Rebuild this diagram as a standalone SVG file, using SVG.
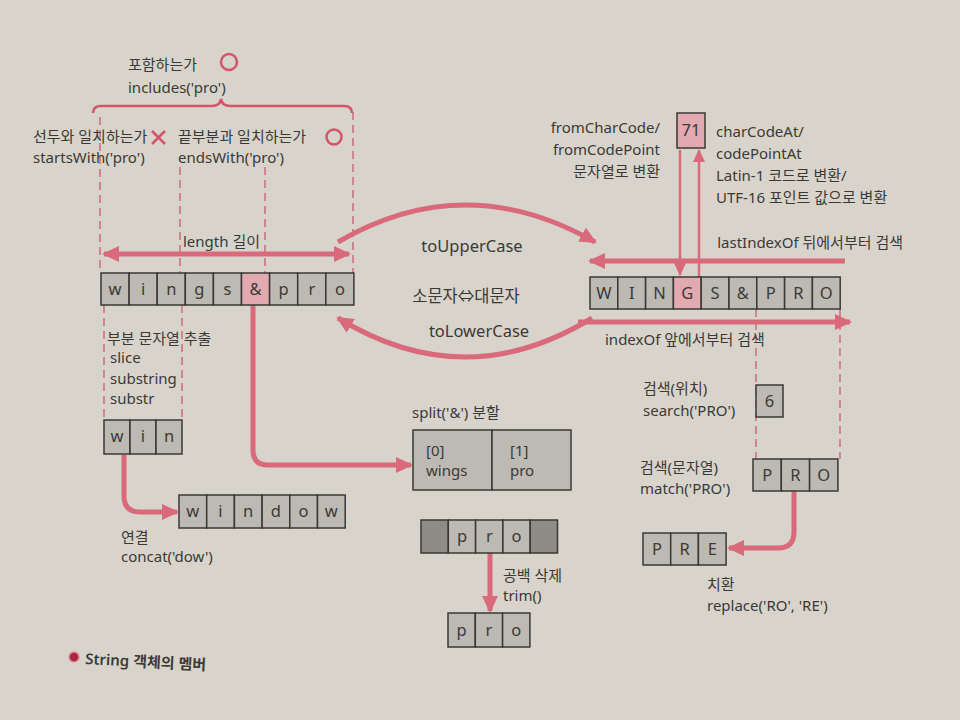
<svg xmlns="http://www.w3.org/2000/svg" width="960" height="720" viewBox="0 0 960 720">
<defs>
<style>
text{font-family:"Noto Sans","Noto Sans CJK KR",sans-serif;font-size:15px;fill:#3b3935}
.c{fill:#bdbab3;stroke:#3a3835;stroke-width:1.5}
.pk{fill:#e3a9b1;stroke:#3a3835;stroke-width:1.5}
.dk{fill:#8f8c86;stroke:#3a3835;stroke-width:1.5}
.ch{text-anchor:middle;font-size:16.5px}
.mid{text-anchor:middle}
.big{font-size:16.5px}
.end{text-anchor:end}
.dash{stroke:#c95e6f;stroke-width:1.3;stroke-dasharray:8 5;fill:none}
.arr{stroke:#d9697b;stroke-width:5;fill:none}
.arr2{stroke:#d9697b;stroke-width:2.5;fill:none}
.red{stroke:#d4556a;fill:none;stroke-width:2.5}
</style>
<marker id="ah" markerUnits="userSpaceOnUse" markerWidth="18" markerHeight="16" refX="15" refY="8" orient="auto"><path d="M0,0 L17,8 L0,16 z" fill="#d9697b"/></marker>
<marker id="ahs" markerUnits="userSpaceOnUse" markerWidth="18" markerHeight="16" refX="15" refY="8" orient="auto-start-reverse"><path d="M0,0 L17,8 L0,16 z" fill="#d9697b"/></marker>
<marker id="ah2" markerUnits="userSpaceOnUse" markerWidth="14" markerHeight="14" refX="12" refY="7" orient="auto"><path d="M0,1 L13,7 L0,13 z" fill="#d9697b"/></marker>
</defs>
<rect width="960" height="720" fill="#d8d4cc"/>

<!-- dashed guides -->
<g id="guides">
<path class="dash" d="M100 117 V273 M180 167 V273 M265 167 V273 M353 112 V273"/>
<path class="dash" d="M104 305 V420 M182 305 V420"/>
<path class="dash" d="M756 309 V459 M840 309 V459"/>
</g>

<!-- connectors -->
<g id="connectors">
<path class="red" stroke-width="2" d="M93 113 Q93 106 101 106 L212 106 Q220 106 221 99 Q222 106 230 106 L344 106 Q352 106 352 113"/>
<path class="arr" d="M104 254 H349" marker-start="url(#ahs)" marker-end="url(#ahs)"/>
<path class="arr" d="M338 242 Q465 168 595 242" marker-end="url(#ah)"/>
<path class="arr" d="M592 318 Q465 396 338 318" marker-end="url(#ah)"/>
<path class="arr" d="M845 261 H590" marker-end="url(#ah)"/>
<path class="arr" d="M578 322 H850" marker-end="url(#ah)"/>
<path class="arr2" d="M680 150 V275" marker-end="url(#ah2)"/>
<path class="arr2" d="M699 277 V150" marker-end="url(#ah2)"/>
<path class="arr" d="M253 305 V450 Q253 465 268 465 H411" marker-end="url(#ah)"/>
<path class="arr" d="M124 455 V496 Q124 512 140 512 H177" marker-end="url(#ah)"/>
<path class="arr" d="M794 491 V532 Q794 548 778 548 H729" marker-end="url(#ah)"/>
<path class="arr" d="M490 553 V611" marker-end="url(#ah)"/>
</g>

<!-- top labels -->
<g id="includes">
<text x="128" y="70">포함하는가</text>
<circle class="red" cx="229" cy="62" r="8"/>
<text x="128" y="93">includes('pro')</text>
</g>
<g id="startsWith">
<text x="33" y="142">선두와 일치하는가</text>
<path class="red" d="M152 131 L165 144 M165 131 L152 144"/>
<text x="33" y="163">startsWith('pro')</text>
</g>
<g id="endsWith">
<text x="178" y="142">끝부분과 일치하는가</text>
<circle class="red" cx="334" cy="137" r="7.5"/>
<text x="178" y="163">endsWith('pro')</text>
</g>
<g id="length"><text x="183" y="247">length 길이</text></g>

<!-- lowercase string -->
<g id="lower">
<rect class="c" x="101" y="273" width="28.1" height="32"/><text class="ch" x="115" y="295">w</text>
<rect class="c" x="129.1" y="273" width="28.1" height="32"/><text class="ch" x="143.2" y="295">i</text>
<rect class="c" x="157.2" y="273" width="28.1" height="32"/><text class="ch" x="171.3" y="295">n</text>
<rect class="c" x="185.3" y="273" width="28.1" height="32"/><text class="ch" x="199.4" y="295">g</text>
<rect class="c" x="213.4" y="273" width="28.1" height="32"/><text class="ch" x="227.5" y="295">s</text>
<rect class="pk" x="241.5" y="273" width="28.1" height="32"/><text class="ch" x="255.6" y="295">&amp;</text>
<rect class="c" x="269.6" y="273" width="28.1" height="32"/><text class="ch" x="283.7" y="295">p</text>
<rect class="c" x="297.7" y="273" width="28.1" height="32"/><text class="ch" x="311.8" y="295">r</text>
<rect class="c" x="325.8" y="273" width="28.1" height="32"/><text class="ch" x="339.9" y="295">o</text>
</g>

<g id="case">
<text class="mid big" x="472" y="252">toUpperCase</text>
<text class="mid big" x="466" y="302">소문자⇔대문자</text>
<text class="mid big" x="479" y="337">toLowerCase</text>
</g>

<!-- uppercase string -->
<g id="upper">
<rect class="c" x="590" y="277" width="27.8" height="32"/><text class="ch" x="603.9" y="299">W</text>
<rect class="c" x="617.8" y="277" width="27.8" height="32"/><text class="ch" x="631.7" y="299">I</text>
<rect class="c" x="645.6" y="277" width="27.8" height="32"/><text class="ch" x="659.5" y="299">N</text>
<rect class="pk" x="673.4" y="277" width="27.8" height="32"/><text class="ch" x="687.3" y="299">G</text>
<rect class="c" x="701.2" y="277" width="27.8" height="32"/><text class="ch" x="715.1" y="299">S</text>
<rect class="c" x="729" y="277" width="27.8" height="32"/><text class="ch" x="742.9" y="299">&amp;</text>
<rect class="c" x="756.8" y="277" width="27.8" height="32"/><text class="ch" x="770.7" y="299">P</text>
<rect class="c" x="784.6" y="277" width="27.8" height="32"/><text class="ch" x="798.5" y="299">R</text>
<rect class="c" x="812.4" y="277" width="27.8" height="32"/><text class="ch" x="826.3" y="299">O</text>
</g>

<g id="charcode">
<rect class="pk" x="677" y="113" width="28" height="35"/><text class="ch" x="691" y="136">71</text>
<text class="end" x="660" y="133">fromCharCode/</text>
<text class="end" x="660" y="155">fromCodePoint</text>
<text class="end" x="660" y="177">문자열로 변환</text>
<text x="716" y="137">charCodeAt/</text>
<text x="716" y="159">codePointAt</text>
<text x="716" y="181">Latin-1 코드로 변환/</text>
<text x="716" y="203">UTF-16 포인트 값으로 변환</text>
</g>
<g id="indexof">
<text class="end" x="903" y="248">lastIndexOf 뒤에서부터 검색</text>
<text x="605" y="345">indexOf 앞에서부터 검색</text>
</g>

<!-- substring -->
<g id="substring">
<text x="107" y="344">부분 문자열 추출</text>
<text x="110" y="363">slice</text>
<text x="110" y="384">substring</text>
<text x="110" y="404">substr</text>
<rect class="c" x="104" y="420" width="26" height="34"/><text class="ch" x="117" y="442">w</text>
<rect class="c" x="130" y="420" width="26" height="34"/><text class="ch" x="143" y="442">i</text>
<rect class="c" x="156" y="420" width="26" height="34"/><text class="ch" x="169" y="442">n</text>
</g>
<g id="concat">
<rect class="c" x="179" y="495" width="27.7" height="33"/><text class="ch" x="192.8" y="517">w</text>
<rect class="c" x="206.7" y="495" width="27.7" height="33"/><text class="ch" x="220.5" y="517">i</text>
<rect class="c" x="234.4" y="495" width="27.7" height="33"/><text class="ch" x="248.2" y="517">n</text>
<rect class="c" x="262.1" y="495" width="27.7" height="33"/><text class="ch" x="275.9" y="517">d</text>
<rect class="c" x="289.8" y="495" width="27.7" height="33"/><text class="ch" x="303.6" y="517">o</text>
<rect class="c" x="317.5" y="495" width="27.7" height="33"/><text class="ch" x="331.3" y="517">w</text>
<text x="121" y="543">연결</text>
<text x="121" y="562">concat('dow')</text>
</g>

<!-- split -->
<g id="split">
<text x="412" y="418">split('&amp;') 분할</text>
<rect class="c" x="413" y="430" width="79" height="60"/>
<rect class="c" x="492" y="430" width="79" height="60"/>
<text x="426" y="456">[0]</text>
<text x="426" y="476">wings</text>
<text x="510" y="456">[1]</text>
<text x="510" y="476">pro</text>
</g>

<!-- trim -->
<g id="trim">
<rect class="dk" x="421" y="520" width="27.3" height="33"/>
<rect class="c" x="448.3" y="520" width="27.3" height="33"/><text class="ch" x="462" y="542">p</text>
<rect class="c" x="475.6" y="520" width="27.3" height="33"/><text class="ch" x="489.3" y="542">r</text>
<rect class="c" x="502.9" y="520" width="27.3" height="33"/><text class="ch" x="516.6" y="542">o</text>
<rect class="dk" x="530.2" y="520" width="27.3" height="33"/>
<text x="503" y="581">공백 삭제</text>
<text x="503" y="601">trim()</text>
<rect class="c" x="448" y="613" width="27.3" height="34"/><text class="ch" x="461.7" y="636">p</text>
<rect class="c" x="475.3" y="613" width="27.3" height="34"/><text class="ch" x="489" y="636">r</text>
<rect class="c" x="502.6" y="613" width="27.3" height="34"/><text class="ch" x="516.3" y="636">o</text>
</g>

<!-- search / match / replace -->
<g id="search">
<text x="643" y="394">검색(위치)</text>
<text x="643" y="416">search('PRO')</text>
<rect class="c" x="756" y="385" width="27" height="32"/><text class="ch" x="769.5" y="407">6</text>
</g>
<g id="match">
<text x="640" y="473">검색(문자열)</text>
<text x="640" y="494">match('PRO')</text>
<rect class="c" x="753" y="459" width="28.3" height="32"/><text class="ch" x="767.2" y="481">P</text>
<rect class="c" x="781.3" y="459" width="28.3" height="32"/><text class="ch" x="795.5" y="481">R</text>
<rect class="c" x="809.6" y="459" width="28.3" height="32"/><text class="ch" x="823.8" y="481">O</text>
</g>
<g id="replace">
<rect class="c" x="643" y="533" width="27.7" height="32"/><text class="ch" x="656.9" y="555">P</text>
<rect class="c" x="670.7" y="533" width="27.7" height="32"/><text class="ch" x="684.6" y="555">R</text>
<rect class="c" x="698.4" y="533" width="27.7" height="32"/><text class="ch" x="712.3" y="555">E</text>
<text x="707" y="590">치환</text>
<text x="707" y="611">replace('RO', 'RE')</text>
</g>

<g id="caption">
<circle cx="74" cy="657" r="5" fill="#a8283f" stroke="#e08a98" stroke-width="1.5"/>
<text x="85" y="664" font-weight="600" font-size="14.5" transform="rotate(3 85 664)">String 객체의 멤버</text>
</g>
</svg>
